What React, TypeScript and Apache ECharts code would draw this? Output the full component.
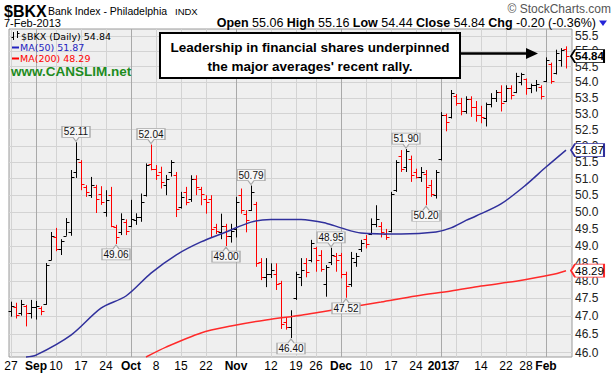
import React, { useEffect, useRef } from "react";
import * as echarts from "echarts";

// ---------- data ----------
const dates = [
  "2012-08-27","2012-08-28","2012-08-29","2012-08-30","2012-08-31",
  "2012-09-04","2012-09-05","2012-09-06","2012-09-07",
  "2012-09-10","2012-09-11","2012-09-12","2012-09-13","2012-09-14",
  "2012-09-17","2012-09-18","2012-09-19","2012-09-20","2012-09-21",
  "2012-09-24","2012-09-25","2012-09-26","2012-09-27","2012-09-28",
  "2012-10-01","2012-10-02","2012-10-03","2012-10-04","2012-10-05",
  "2012-10-08","2012-10-09","2012-10-10","2012-10-11","2012-10-12",
  "2012-10-15","2012-10-16","2012-10-17","2012-10-18","2012-10-19",
  "2012-10-22","2012-10-23","2012-10-24","2012-10-25","2012-10-26",
  "2012-10-31",
  "2012-11-01","2012-11-02",
  "2012-11-05","2012-11-06","2012-11-07","2012-11-08","2012-11-09",
  "2012-11-12","2012-11-13","2012-11-14","2012-11-15","2012-11-16",
  "2012-11-19","2012-11-20","2012-11-21","2012-11-23",
  "2012-11-26","2012-11-27","2012-11-28","2012-11-29","2012-11-30",
  "2012-12-03","2012-12-04","2012-12-05","2012-12-06","2012-12-07",
  "2012-12-10","2012-12-11","2012-12-12","2012-12-13","2012-12-14",
  "2012-12-17","2012-12-18","2012-12-19","2012-12-20","2012-12-21",
  "2012-12-24","2012-12-26","2012-12-27","2012-12-28","2012-12-31",
  "2013-01-02","2013-01-03","2013-01-04",
  "2013-01-07","2013-01-08","2013-01-09","2013-01-10","2013-01-11",
  "2013-01-14","2013-01-15","2013-01-16","2013-01-17","2013-01-18",
  "2013-01-22","2013-01-23","2013-01-24","2013-01-25",
  "2013-01-28","2013-01-29","2013-01-30","2013-01-31",
  "2013-02-01","2013-02-04","2013-02-05","2013-02-06","2013-02-07",
];

const opens = [
  47.15,47.25,47.10,47.30,47.10,47.25,47.22,47.35,48.60,49.25,
  48.90,49.30,49.40,51.20,51.50,50.75,50.50,50.75,50.55,50.00,
  50.50,49.55,49.40,49.70,49.60,49.75,49.85,50.50,51.45,51.30,
  51.20,50.80,51.20,51.10,50.15,50.60,50.40,51.00,50.70,50.40,
  50.40,49.55,49.40,49.60,49.30,49.50,50.50,49.95,50.05,50.25,
  48.55,48.10,48.20,48.20,47.95,46.85,46.70,47.50,48.10,48.50,
  48.60,48.95,48.75,47.90,48.55,48.70,48.75,48.20,47.90,48.55,
  48.90,49.20,49.35,49.65,49.60,49.35,49.45,50.65,51.70,51.35,
  51.60,51.20,51.05,51.15,50.80,50.50,51.60,52.95,52.90,53.55,
  53.35,53.10,53.45,53.20,52.95,52.85,53.30,53.50,53.70,53.40,
  53.80,53.70,54.00,54.10,53.80,53.90,53.85,54.05,54.60,54.30,
  54.70,55.06,
];
const highs = [
  47.41,47.38,47.46,47.32,47.46,47.43,47.28,48.51,49.41,49.53,
  49.20,49.82,51.26,52.11,51.56,50.80,51.05,50.81,50.77,50.65,
  50.75,49.62,49.96,49.78,50.36,49.96,50.55,51.46,52.04,51.41,
  51.36,51.11,51.56,51.20,50.60,50.75,51.10,51.10,50.75,50.50,
  50.50,49.65,49.95,49.65,49.65,50.45,50.70,50.05,50.79,50.30,
  48.65,48.65,48.50,48.50,48.00,46.98,47.17,48.26,48.65,48.65,
  49.18,48.98,48.88,48.45,48.95,48.80,48.80,48.26,48.83,48.80,
  49.18,49.32,49.81,50.20,49.70,49.50,50.60,51.56,51.87,51.90,
  51.70,51.30,51.35,51.26,50.96,51.26,53.05,53.00,53.75,53.62,
  53.50,53.55,53.55,53.40,53.25,53.35,53.65,53.75,53.90,53.90,
  53.90,54.30,54.30,54.12,53.95,54.07,53.90,54.80,54.63,55.05,
  55.10,55.16,
];
const lows = [
  46.99,46.94,47.02,46.72,46.94,46.91,47.03,47.32,48.59,48.85,
  48.74,49.30,49.30,51.02,50.65,50.45,50.42,49.97,50.21,49.86,
  49.55,49.06,49.32,49.32,49.55,49.62,49.71,50.46,51.25,50.96,
  50.70,50.50,51.06,49.85,50.10,50.20,50.30,50.50,50.20,49.95,
  49.25,49.35,49.20,49.00,49.10,49.25,49.95,49.40,50.03,48.40,
  48.02,47.82,48.08,47.74,46.65,46.63,46.40,47.46,47.85,48.10,
  48.53,48.26,48.26,47.55,48.45,48.26,48.07,47.52,47.83,48.40,
  48.83,48.93,49.32,49.55,49.25,49.18,49.40,50.60,51.20,51.20,
  50.90,51.00,50.90,50.20,50.45,50.40,51.55,52.45,52.85,53.25,
  52.95,53.00,52.90,52.75,52.70,52.60,53.20,53.37,53.07,53.37,
  53.45,53.65,53.90,53.60,53.65,53.70,53.45,54.00,53.95,54.25,
  54.50,54.44,
];
const closes = [
  47.30,47.05,47.35,47.10,47.25,47.30,47.15,48.45,49.30,48.90,
  49.15,49.70,51.05,51.60,50.85,50.60,50.80,50.40,50.30,50.35,
  49.60,49.25,49.80,49.45,49.80,49.85,50.30,51.42,51.30,51.10,
  50.90,51.00,51.50,50.10,50.45,50.30,51.00,50.75,50.55,50.30,
  49.50,49.45,49.60,49.30,49.45,50.30,50.05,49.75,50.60,48.50,
  48.10,48.20,48.30,47.90,46.80,46.70,47.00,48.20,48.30,48.25,
  49.10,48.60,48.35,48.40,48.75,48.60,48.20,47.85,48.65,48.70,
  49.10,49.05,49.65,49.80,49.40,49.25,50.55,51.50,51.30,51.85,
  51.10,51.05,51.20,50.75,50.55,51.20,52.95,52.75,53.65,53.35,
  53.10,53.45,53.20,52.95,52.90,53.30,53.50,53.70,53.35,53.80,
  53.60,54.20,54.25,53.80,53.90,53.95,53.55,54.70,54.05,54.95,
  55.04,54.84,
];
const prevClose = 47.2; // close of the session before the first bar

const ma50Points: [string, number][] = [
  ["2012-08-30",45.88],["2012-09-04",45.93],["2012-09-13",46.48],["2012-09-21",47.23],
  ["2012-09-28",47.57],["2012-10-05",48.22],["2012-10-12",48.74],["2012-10-19",49.12],
  ["2012-10-26",49.41],["2012-11-06",49.70],["2012-11-12",49.78],["2012-11-20",49.78],
  ["2012-11-28",49.67],["2012-12-03",49.53],["2012-12-07",49.38],["2012-12-19",49.35],
  ["2012-12-31",49.41],["2013-01-04",49.53],["2013-01-09",49.75],["2013-01-11",49.88],
  ["2013-01-18",50.24],["2013-01-28",50.81],["2013-02-01",51.35],["2013-02-07",51.87],
];
const ma200Points: [string, number][] = [
  ["2012-10-04",45.88],["2012-10-10",46.15],["2012-10-19",46.54],["2012-10-31",46.73],
  ["2012-11-09",46.90],["2012-11-20",47.03],["2012-11-27",47.12],["2012-12-05",47.26],
  ["2012-12-13",47.40],["2012-12-24",47.57],["2013-01-04",47.71],["2013-01-14",47.85],
  ["2013-01-24",47.99],["2013-02-04",48.17],["2013-02-07",48.29],
];

const xTickLabels: [string, string, boolean][] = [
  ["2012-08-27","27",false],["2012-09-04","Sep",true],["2012-09-10","10",false],
  ["2012-09-17","17",false],["2012-09-24","24",false],["2012-10-01","Oct",true],
  ["2012-10-08","8",false],["2012-10-15","15",false],["2012-10-22","22",false],
  ["2012-11-01","Nov",true],["2012-11-12","12",false],["2012-11-19","19",false],
  ["2012-11-26","26",false],["2012-12-03","Dec",true],["2012-12-10","10",false],
  ["2012-12-17","17",false],["2012-12-24","24",false],["2013-01-02","2013",true],
  ["2013-01-07","7",false],["2013-01-14","14",false],["2013-01-22","22",false],
  ["2013-01-28","28",false],["2013-02-01","Feb",true],
];
const yTicks = [46.0,46.5,47.0,47.5,48.0,48.5,49.0,49.5,50.0,50.5,51.0,51.5,52.0,52.5,53.0,53.5,54.0,54.5,55.0,55.5];

const highCallouts: [string, number][] = [
  ["2012-09-14",52.11],["2012-10-05",52.04],["2012-11-06",50.79],["2012-11-29",48.95],["2012-12-20",51.90],
];
const lowCallouts: [string, number][] = [
  ["2012-09-26",49.06],["2012-10-26",49.00],["2012-11-16",46.40],["2012-12-04",47.52],["2012-12-27",50.20],
];
const lastClose = 54.84;
const lastMa50 = 51.87;
const lastMa200 = 48.29;

// ---------- chart ----------
const FONT = "Liberation Sans, Arial, sans-serif";
const LEG = "DejaVu Sans, Verdana, sans-serif";

const idx = (d: string) => dates.indexOf(d);

function buildOption() {
  const ohlc = dates.map((d, i) => {
    const pc = i === 0 ? prevClose : closes[i - 1];
    return [i, opens[i], highs[i], lows[i], closes[i], closes[i] >= pc ? 1 : 0];
  });
  const last = dates.length - 1;
  const xIdx = xTickLabels.map((t) => idx(t[0]));
  const labelMap: Record<number, string> = {};
  xTickLabels.forEach((t) => {
    labelMap[idx(t[0])] = t[2] ? `{b|${t[1]}}` : `{n|${t[1]}}`;
  });
  const xSplitColors = xTickLabels.map((t) => (t[2] ? "#a9a9a9" : "#d3d3d3"));

  const highPath = "path://M0,0 L28,0 L28,11 L17,11 L14,15 L11,11 L0,11 Z";
  const lowPath = "path://M0,4 L11,4 L14,0 L17,4 L28,4 L28,15 L0,15 Z";
  const tagPath = "path://M0,6.5 L4,0 L33,0 L33,13 L4,13 Z";
  const calloutLabel = (dy: number) => ({
    show: true,
    position: "inside",
    offset: [0, dy],
    fontSize: 10,
    fontFamily: FONT,
    color: "#111",
    formatter: (p: any) => Number(p.value).toFixed(2),
  });
  const calloutStyle = { color: "#f6f6f6", borderColor: "#a8a8a8", borderWidth: 1 };

  const markHigh = highCallouts.map(([d, v]) => ({
    coord: [idx(d), v], value: v, symbol: highPath, symbolSize: [28, 15], symbolOffset: [0, -8.5],
    itemStyle: calloutStyle, label: calloutLabel(-2),
  }));
  const markLow = lowCallouts.map(([d, v]) => ({
    coord: [idx(d), v], value: v, symbol: lowPath, symbolSize: [28, 15], symbolOffset: [0, 8.5],
    itemStyle: calloutStyle, label: calloutLabel(2),
  }));
  const tag = (v: number, border: string, bold: boolean) => ({
    coord: [last, v], value: v, symbol: tagPath, symbolSize: [33, 13], symbolOffset: [21.5, 0],
    itemStyle: { color: "#ffffff", borderColor: border, borderWidth: 1.3 },
    label: {
      show: true, position: "inside", offset: [2, 0], fontSize: 11.5, fontFamily: FONT,
      fontWeight: bold ? "bold" : "normal", color: "#000",
      formatter: (p: any) => Number(p.value).toFixed(2),
    },
  });

  const G = (el: any) => ({ z: 100, ...el });
  const txt = (x: number, y: number, text: string, o: any = {}) =>
    G({ type: "text", x, y, style: { text, fontFamily: FONT, fontSize: 12, fill: "#000", verticalAlign: "middle", ...o } });

  const rn = { fontFamily: FONT, fontSize: 12.5, color: "#000" };
  const rb = { fontFamily: FONT, fontSize: 12.5, fontWeight: "bold", color: "#000" };

  return {
    animation: false,
    backgroundColor: "#ffffff",
    grid: {
      left: 9, right: 43, top: 29, bottom: 20, show: true,
      backgroundColor: "#efefef", borderColor: "#9a9a9a", borderWidth: 1,
      containLabel: false, outerBoundsMode: "none",
    },
    xAxis: {
      type: "value", min: -0.4, max: 112.2,
      axisLine: { show: false },
      axisTick: { show: false, customValues: xIdx },
      axisLabel: {
        customValues: xIdx, hideOverlap: false, margin: 3,
        formatter: (v: number) => labelMap[Math.round(v)] || "",
        rich: {
          b: { fontFamily: FONT, fontSize: 12, fontWeight: "bold", color: "#000" },
          n: { fontFamily: FONT, fontSize: 12, color: "#000" },
        },
      },
      splitLine: { show: true, lineStyle: { color: xSplitColors, width: 1 } },
    },
    yAxis: {
      type: "log", logBase: 10, min: 45.88, max: 55.73, position: "right",
      axisLine: { show: false },
      axisTick: { show: false, customValues: yTicks },
      axisLabel: {
        customValues: yTicks, margin: 3, color: "#222", fontSize: 12, fontFamily: FONT,
        hideOverlap: false, formatter: (v: number) => v.toFixed(1),
      },
      splitLine: { show: true, lineStyle: { color: "#d3d3d3", width: 1 } },
    },
    series: [
      {
        type: "custom",
        clip: false,
        data: ohlc,
        encode: { x: 0, y: [1, 2, 3, 4] },
        renderItem: (params: any, api: any) => {
          const i = api.value(0);
          const pH = api.coord([i, api.value(2)]);
          const pL = api.coord([i, api.value(3)]);
          const pO = api.coord([i, api.value(1)]);
          const pC = api.coord([i, api.value(4)]);
          const color = api.value(5) ? "#000000" : "#ff0000";
          const x = Math.round(pH[0]) + 0.5;
          const yo = Math.round(pO[1]) + 0.5;
          const yc = Math.round(pC[1]) + 0.5;
          const style = { stroke: color, lineWidth: 1 };
          return {
            type: "group",
            children: [
              { type: "line", shape: { x1: x, y1: pH[1], x2: x, y2: pL[1] }, style },
              { type: "line", shape: { x1: x - 3, y1: yo, x2: x, y2: yo }, style },
              { type: "line", shape: { x1: x, y1: yc, x2: x + 3, y2: yc }, style },
            ],
          };
        },
        markPoint: { animation: false, data: [...markHigh, ...markLow, tag(lastClose, "#000000", true)] },
        z: 2,
      },
      {
        type: "line", clip: false, smooth: 0.3, symbol: "none",
        data: ma50Points.map(([d, v]) => [idx(d), v]),
        lineStyle: { color: "#30309c", width: 1.5 },
        markPoint: { animation: false, data: [tag(lastMa50, "#30309c", false)] },
        z: 3,
      },
      {
        type: "line", clip: false, smooth: 0.3, symbol: "none",
        data: ma200Points.map(([d, v]) => [idx(d), v]),
        lineStyle: { color: "#ff2a2a", width: 1.5 },
        markPoint: { animation: false, data: [tag(lastMa200, "#ff2a2a", false)] },
        z: 3,
      },
    ],
    graphic: {
      elements: [
        // header
        txt(4, 11, "$BKX", { fontSize: 16, fontWeight: "bold" }),
        txt(48, 11, "Bank Index - Philadelphia", { fontSize: 10.5 }),
        txt(175, 11, "INDX", { fontSize: 9.5 }),
        txt(611, 9, "\u00A9 StockCharts.com", { fontSize: 12, fill: "#555", align: "right" }),
        txt(4, 23, "7-Feb-2013", { fontSize: 11 }),
        G({
          type: "text", x: 596, y: 23,
          style: {
            text: "{b|Open}{n| 55.06 }{b|High}{n| 55.16 }{b|Low}{n| 54.44 }{b|Close}{n| 54.84 }{b|Chg}{n| -0.20 (-0.36%)}",
            rich: { b: rb, n: rn }, fontFamily: FONT, fontSize: 12.5, align: "right", verticalAlign: "middle",
          },
        }),
        G({ type: "polygon", shape: { points: [[599, 20.5], [607, 20.5], [603, 26]] }, style: { fill: "#2424d8" } }),
        // legend
        G({ type: "line", shape: { x1: 13.5, y1: 32, x2: 13.5, y2: 40 }, style: { stroke: "#000", lineWidth: 1 } }),
        G({ type: "line", shape: { x1: 11.5, y1: 37.5, x2: 13.5, y2: 37.5 }, style: { stroke: "#000", lineWidth: 1 } }),
        G({ type: "line", shape: { x1: 17.5, y1: 31, x2: 17.5, y2: 38 }, style: { stroke: "#000", lineWidth: 1 } }),
        G({ type: "line", shape: { x1: 17.5, y1: 33.5, x2: 19.5, y2: 33.5 }, style: { stroke: "#000", lineWidth: 1 } }),
        txt(21, 36, "$BKX (Daily) 54.84", { fontFamily: LEG, fontSize: 9.5 }),
        G({ type: "line", shape: { x1: 12, y1: 47.5, x2: 19, y2: 47.5 }, style: { stroke: "#2424c0", lineWidth: 2 } }),
        txt(20, 47, "MA(50) 51.87", { fontFamily: LEG, fontSize: 9.5, fill: "#2424c0" }),
        G({ type: "line", shape: { x1: 12, y1: 58.5, x2: 19, y2: 58.5 }, style: { stroke: "#ff0000", lineWidth: 2 } }),
        txt(20, 58, "MA(200) 48.29", { fontFamily: LEG, fontSize: 9.5, fill: "#ff0000" }),
        txt(11, 71, "www.CANSLIM.net", { fontSize: 13.5, fontWeight: "bold", fill: "#1e8c1e" }),
        // annotation
        G({ type: "rect", shape: { x: 160, y: 33, width: 300, height: 45 }, style: { fill: "#ffffff", stroke: "#000", lineWidth: 2 } }),
        txt(310, 47, "Leadership in financial shares underpinned", { fontSize: 13.5, fontWeight: "bold", align: "center" }),
        txt(310, 66, "the major averages' recent rally.", { fontSize: 13.5, fontWeight: "bold", align: "center" }),
        G({ type: "line", shape: { x1: 461, y1: 53.5, x2: 528, y2: 53.5 }, style: { stroke: "#000", lineWidth: 2.5 } }),
        G({ type: "polygon", shape: { points: [[526, 48], [538, 53.5], [526, 59]] }, style: { fill: "#000" } }),
      ],
    },
  };
}

export default function App() {
  const ref = useRef<HTMLDivElement>(null);
  useEffect(() => {
    if (!ref.current) return;
    const chart = echarts.init(ref.current, null, { renderer: "svg" });
    chart.setOption(buildOption() as any);
    return () => chart.dispose();
  }, []);
  return (
    <div
      ref={ref}
      style={{ position: "fixed", left: 0, top: 0, width: 615, height: 377, background: "#fff" }}
    />
  );
}
